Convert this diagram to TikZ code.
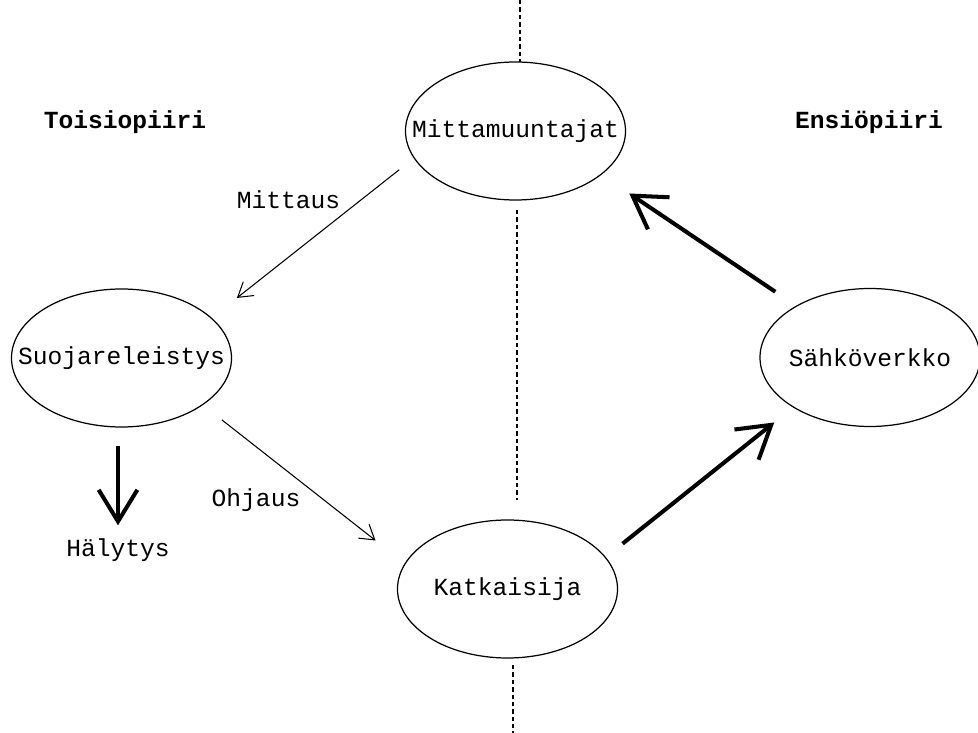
\documentclass[tikz,border=0pt]{standalone}
\usepackage{fontspec}
\setmainfont{Liberation Mono}
\usetikzlibrary{shapes.geometric, arrows.meta}

\tikzset{
	ovaali/.style={draw, ellipse, line width=0.7pt, minimum width=4.4cm, minimum height=2.76cm, inner sep=0pt},
	ohut/.style={line width=0.6pt, -{Straight Barb[length=8pt, width=10pt]}},
	paksu/.style={line width=2.3pt, -{Straight Barb[length=18pt, width=22pt]}},
	raja/.style={line width=0.6pt, dash pattern=on 2.5pt off 1.7pt}
}

\begin{document}
\begin{tikzpicture}[font=\fontsize{14}{17}\selectfont]

	\useasboundingbox (0, 0) rectangle (19.56, 14.66);

	% Nodes in ellipses
	\node[ovaali] (mitta) at (10.31, 12.04) {\makebox[0pt]{Mittamuuntajat}};
	\node[ovaali] (suoja) at (2.43, 7.5) {\makebox[0pt]{Suojareleistys}};
	\node[ovaali] (sahko) at (17.4, 7.51) {\makebox[0pt]{Sähköverkko}};
	\node[ovaali] (katk) at (10.15, 2.88) {\makebox[0pt]{Katkaisija}};

	% Headings and alarm
	\node[font=\fontsize{14}{17}\selectfont\bfseries] (toisio) at (2.5, 12.22) {Toisiopiiri};
	\node[font=\fontsize{14}{17}\selectfont\bfseries] (ensio) at (17.38, 12.22) {Ensiöpiiri};
	\node (halytys) at (2.36, 3.66) {Hälytys};

	% Border line
	\draw[raja] (10.4, 14.66) -- (10.4, 13.42);
	\draw[raja] (10.34, 10.46) -- (10.34, 4.66);
	\draw[raja] (10.26, 1.36) -- (10.26, 0);

	% Thin edges with labels
	\draw[ohut, shorten <=0.37cm, shorten >=0.64cm] (mitta.195) -- (suoja.24.5);
	\node (mittaus) at (5.77, 10.67) {Mittaus};
	\draw[ohut, shorten <=0.48cm, shorten >=0.74cm] (suoja.330) -- (katk.166);
	\node (ohjaus) at (5.12, 4.66) {Ohjaus};

	% Thick edges
	\draw[paksu, shorten <=0.36cm, shorten >=0.14cm] (halytys.north |- suoja.south) -- (halytys.north);
	\draw[paksu, shorten <=0.43cm, shorten >=0.48cm] (katk.18.8) -- (sahko.213.8);
	\draw[paksu, shorten <=0.5cm, shorten >=0.67cm] (sahko.145) -- (mitta.333);
\end{tikzpicture}
\end{document}
